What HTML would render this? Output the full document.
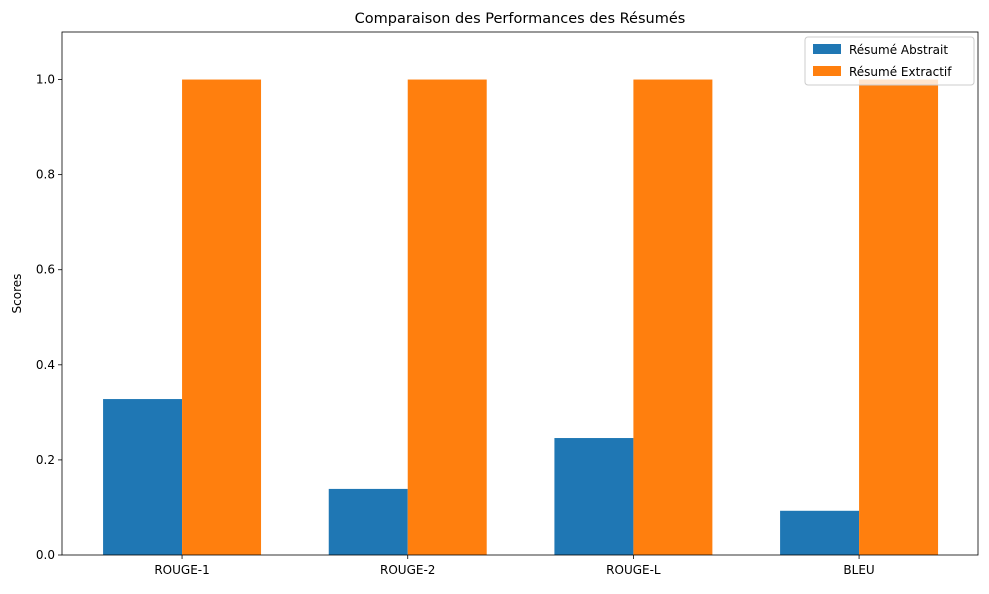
<!DOCTYPE html>
<html><head><meta charset="utf-8"><style>
body{margin:0;background:#fff;font-family:"Liberation Sans","DejaVu Sans",sans-serif;}
svg text{font-family:"DejaVu Sans","Liberation Sans",sans-serif;}
</style></head><body>
<svg id="chart" width="989" height="589" xmlns="http://www.w3.org/2000/svg"></svg>
<script>
const categories = ["ROUGE-1","ROUGE-2","ROUGE-L","BLEU"];
const abstractValues = [0.328, 0.139, 0.246, 0.093];
const extractiveValues = [1.0, 1.0, 1.0, 1.0];
const yTicks = [0.0, 0.2, 0.4, 0.6, 0.8, 1.0];
const yTickLabels = ["0.0","0.2","0.4","0.6","0.8","1.0"];

const NS = "http://www.w3.org/2000/svg";
const svg = document.getElementById('chart');
const L = 62, R = 978, T = 32, B = 555;
const xMin = -0.532, xMax = 3.527, yMin = 0, yMax = 1.1;
const xs = v => L + (v - xMin) / (xMax - xMin) * (R - L);
const ys = v => B - (v - yMin) / (yMax - yMin) * (B - T);
const bw = 0.35;
function mk(tag, attrs, text){
  const e = document.createElementNS(NS, tag);
  for (const k in attrs) e.setAttribute(k, attrs[k]);
  if (text !== undefined) e.textContent = text;
  svg.appendChild(e);
  return e;
}
categories.forEach((c, i) => {
  const a = mk('rect', {x: xs(i - bw), y: ys(abstractValues[i]), width: xs(i) - xs(i - bw), height: ys(0) - ys(abstractValues[i]), fill: '#1f77b4'});
  
  
  const e = mk('rect', {x: xs(i), y: ys(extractiveValues[i]), width: xs(i + bw) - xs(i), height: ys(0) - ys(extractiveValues[i]), fill: '#ff7f0e'});
  
  
  const tk = mk('line', {x1: xs(i), x2: xs(i), y1: B, y2: B + 4, stroke: '#000', 'stroke-width': 0.8});
  
  
  const lb = mk('text', {x: xs(i), y: B + 19, 'font-size': 12, 'text-anchor': 'middle'}, c);
  
  
});
yTicks.forEach((v, i) => {
  const tk = mk('line', {x1: L - 4, x2: L, y1: ys(v), y2: ys(v), stroke: '#000', 'stroke-width': 0.8});
  
  
  const lb = mk('text', {x: L - 7, y: ys(v) + 4, 'font-size': 12, 'text-anchor': 'end'}, yTickLabels[i]);
  
  
});
const frame = mk('rect', {x: L, y: T, width: R - L, height: B - T, fill: 'none', stroke: '#000', 'stroke-width': 0.8});


const title = mk('text', {x: (L + R) / 2, y: 23, 'font-size': 14.5, 'text-anchor': 'middle'}, 'Comparaison des Performances des Résumés');


const yt = mk('text', {x: 21, y: (T + B) / 2, 'font-size': 12, 'text-anchor': 'middle', transform: 'rotate(-90 21 ' + ((T + B) / 2) + ')'}, 'Scores');


const lg = mk('rect', {x: 805, y: 37, width: 169, height: 48, fill: '#fff', 'fill-opacity': 0.8, stroke: '#ccc', rx: 3});


[['Résumé Abstrait', '#1f77b4'], ['Résumé Extractif', '#ff7f0e']].forEach((d, i) => {
  const s = mk('rect', {x: 813, y: 44 + i * 22, width: 28, height: 10, fill: d[1]});
  
  
  const t = mk('text', {x: 849, y: 54 + i * 22, 'font-size': 12}, d[0]);
  
  
});
</script>
</body></html>
